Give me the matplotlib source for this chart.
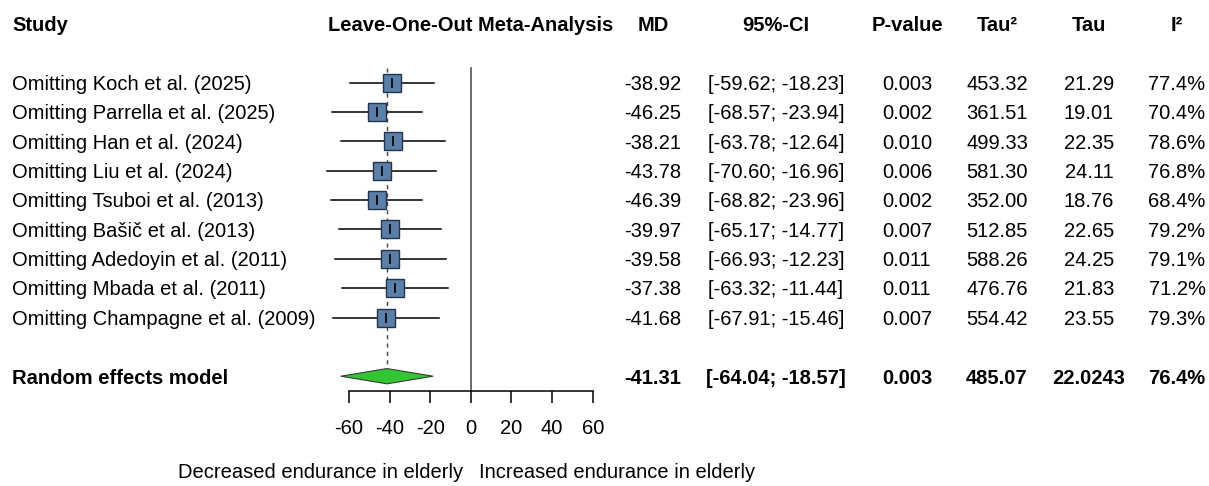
import matplotlib
matplotlib.use("Agg")
import matplotlib.pyplot as plt
import matplotlib.transforms as mtransforms
from matplotlib.patches import Polygon
import numpy as np

plt.rcParams['font.family'] = ['Liberation Sans', 'DejaVu Sans']

# leave-one-out results
studies = ["Omitting Koch et al. (2025)", "Omitting Parrella et al. (2025)",
           "Omitting Han et al. (2024)", "Omitting Liu et al. (2024)",
           "Omitting Tsuboi et al. (2013)", "Omitting Bašič et al. (2013)",
           "Omitting Adedoyin et al. (2011)", "Omitting Mbada et al. (2011)",
           "Omitting Champagne et al. (2009)"]
md = [-38.92, -46.25, -38.21, -43.78, -46.39, -39.97, -39.58, -37.38, -41.68]
ci_low = [-59.62, -68.57, -63.78, -70.60, -68.82, -65.17, -66.93, -63.32, -67.91]
ci_high = [-18.23, -23.94, -12.64, -16.96, -23.96, -14.77, -12.23, -11.44, -15.46]
pval = [0.003, 0.002, 0.010, 0.006, 0.002, 0.007, 0.011, 0.011, 0.007]
tau2 = [453.32, 361.51, 499.33, 581.30, 352.00, 512.85, 588.26, 476.76, 554.42]
tau = [21.29, 19.01, 22.35, 24.11, 18.76, 22.65, 24.25, 21.83, 23.55]
i2 = [77.4, 70.4, 78.6, 76.8, 68.4, 79.2, 79.1, 71.2, 79.3]

# random effects model
re_md, re_low, re_high = -41.31, -64.04, -18.57
re_p, re_tau2, re_tau, re_i2 = 0.003, 485.07, 22.0243, 76.4

xticks = [-60, -40, -20, 0, 20, 40, 60]
label_left = "Decreased endurance in elderly"
label_right = "Increased endurance in elderly"

W, H = 1209, 486
fig = plt.figure(figsize=(W / 100, H / 100), dpi=100)
ax = fig.add_axes([349 / W, 0, (592.7 - 349) / W, 1])
row0, rowh = 24, 29.35
ax.set_xlim(-60, 60)
ax.set_ylim((H - row0) / rowh, -row0 / rowh)

fs = 14.5
trans = mtransforms.blended_transform_factory(fig.transFigure, ax.transData)
off = 0.25  # baseline offset from row centre

rows = np.arange(len(studies)) + 2
re_row = rows[-1] + 2
axis_row = (390.7 - row0) / rowh
top_row = (67.5 - row0) / rowh

# reference lines
ax.plot([0, 0], [top_row, axis_row], color="#444444", lw=1.1, zorder=1)
ax.plot([re_md, re_md], [top_row, re_row - 0.26], color="#444444", lw=1.0,
        ls=(0, (3, 3)), zorder=1)

# studies
for r, m, lo, hi in zip(rows, md, ci_low, ci_high):
    ax.plot([lo, hi], [r, r], color="black", lw=1.1, zorder=2, clip_on=False)
    ax.plot(m, r, marker="s", ms=13.2, mfc="#5B7FA8", mec="#23344F", mew=1.0, zorder=3)
    ax.plot(m, r, marker="|", ms=7, mec="black", mew=1.2, zorder=4)

# diamond
h = 0.26
ax.add_patch(Polygon([[re_low, re_row], [re_md, re_row - h], [re_high, re_row], [re_md, re_row + h]],
                     closed=True, fc="#33C633", ec="#3A3A3A", lw=0.8, zorder=3, clip_on=False))

# axis
for s in ["top", "left", "right"]:
    ax.spines[s].set_visible(False)
ax.spines["bottom"].set_position(("data", axis_row))
ax.spines["bottom"].set_bounds(-60, 60)
ax.spines["bottom"].set_linewidth(1.1)
ax.set_xticks(xticks)
ax.set_xticklabels([str(t) for t in xticks])
ax.tick_params(axis="x", direction="out", length=8.5, width=1.1, pad=12, labelsize=fs)
ax.set_yticks([])
ax.patch.set_visible(False)

# column headers
hdr_row = 0
ax.text(12 / W, hdr_row + off, "Study", transform=trans, fontsize=fs, fontweight="bold", ha="left", va="baseline")
ax.text(470.5 / W, hdr_row + off, "Leave-One-Out Meta-Analysis", transform=trans, fontsize=fs,
        fontweight="bold", ha="center", va="baseline")
cols = [653, 776, 907, 997, 1089, 1177]
headers = ["MD", "95%-CI", "P-value", "Tau²", "Tau", "I²"]
for cx, t in zip(cols, headers):
    ax.text(cx / W, hdr_row + off, t, transform=trans, fontsize=fs, fontweight="bold", ha="center", va="baseline")


def row_text(r, name, vals, weight):
    ax.text(12 / W, r + off, name, transform=trans, fontsize=fs, fontweight=weight, ha="left", va="baseline")
    for cx, t in zip(cols, vals):
        ax.text(cx / W, r + off, t, transform=trans, fontsize=fs, fontweight=weight, ha="center", va="baseline")


for i, r in enumerate(rows):
    row_text(r, studies[i], [f"{md[i]:.2f}", f"[{ci_low[i]:.2f}; {ci_high[i]:.2f}]", f"{pval[i]:.3f}",
                             f"{tau2[i]:.2f}", f"{tau[i]:.2f}", f"{i2[i]:.1f}%"], "normal")

row_text(re_row, "Random effects model", [f"{re_md:.2f}", f"[{re_low:.2f}; {re_high:.2f}]", f"{re_p:.3f}",
                                          f"{re_tau2:.2f}", f"{re_tau:.4f}", f"{re_i2:.1f}%"], "bold")

lab_row = (478 - row0) / rowh
ax.text(-4, lab_row, label_left, fontsize=fs, ha="right", va="baseline")
ax.text(4, lab_row, label_right, fontsize=fs, ha="left", va="baseline")

fig.savefig("out.png", dpi=100)
